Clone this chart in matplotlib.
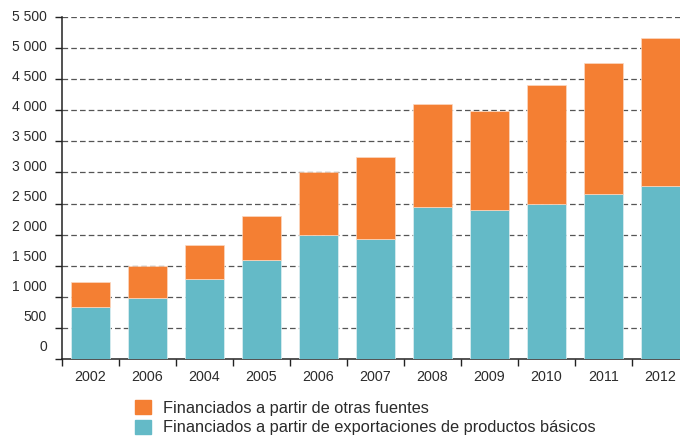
import numpy as np
import matplotlib.pyplot as plt
import matplotlib.transforms as mtransforms
from matplotlib.patches import Patch

plt.rcParams['font.family'] = ['Liberation Sans', 'DejaVu Sans']

# Labels as printed in the source (year labels kept exactly as shown)
years = ["2002", "2006", "2004", "2005", "2006", "2007", "2008", "2009", "2010", "2011", "2012"]
# Financed from commodity exports (lower, teal)
exports = [830, 980, 1290, 1590, 2000, 1930, 2440, 2400, 2500, 2650, 2780]
# Total per year (top of the stack)
totals = [1235, 1500, 1830, 2300, 3000, 3250, 4100, 3985, 4400, 4760, 5165]
other = [t - e for t, e in zip(totals, exports)]

y_ticks = list(range(0, 5501, 500))
y_labels = ["0", "500", "1 000", "1 500", "2 000", "2 500", "3 000",
            "3 500", "4 000", "4 500", "5 000", "5 500"]

label_other = "Financiados a partir de otras fuentes"
label_exports = "Financiados a partir de exportaciones de productos básicos"

orange = "#F47F33"
teal = "#64BAC7"
text_col = "#2b2b2b"

W, H = 680, 436
fig = plt.figure(figsize=(W / 100, H / 100), dpi=100)
ax = fig.add_axes([62 / W, (H - 359) / H, 627 / W, 342 / H])

x = np.arange(len(years))
ax.bar(x, exports, width=0.68, color=teal, edgecolor="#dff0f3", linewidth=0.5, zorder=3)
ax.bar(x, other, bottom=exports, width=0.68, color=orange, edgecolor="#fbd9c2",
       linewidth=0.5, zorder=3)

ax.set_xlim(-0.5, len(years) - 0.5)
ax.set_ylim(0, 5500)

# dashed grid lines
for v in y_ticks[1:]:
    ax.axhline(v, color="#555555", linewidth=0.9, linestyle=(0, (4.5, 2.5)), zorder=1)

# x axis: ticks at category boundaries, labels centred
ax.set_xticks(np.arange(len(years) + 1) - 0.5)
ax.set_xticklabels([])
ax.set_xticks(x, minor=True)
ax.set_xticklabels(years, minor=True, fontsize=10.3, color=text_col)
ax.tick_params(axis="x", which="major", direction="out", length=5, width=1, color="#222222")
ax.tick_params(axis="x", which="minor", length=0, pad=8)

# y axis: ticks outward, labels drift slightly above ticks as in the source
ax.set_yticks(y_ticks)
ax.set_yticklabels([])
ax.tick_params(axis="y", direction="out", length=5, width=1, color="#222222")
for k, (v, lab) in enumerate(zip(y_ticks, y_labels)):
    dy = (12 - 1.09 * k) / 100
    tr = mtransforms.blended_transform_factory(ax.transAxes, ax.transData) + \
        mtransforms.ScaledTranslation(-15 / 100, dy, fig.dpi_scale_trans)
    ax.text(0, v, lab, transform=tr, ha="right", va="center", fontsize=10, color=text_col)

for side in ["top", "right"]:
    ax.spines[side].set_visible(False)
ax.spines["left"].set_color("#222222")
ax.spines["bottom"].set_color("#222222")
ax.spines["left"].set_linewidth(1.1)
ax.spines["bottom"].set_linewidth(1.1)

handles = [Patch(color=orange, label=label_other), Patch(color=teal, label=label_exports)]
leg = fig.legend(handles=handles, loc="upper left", bbox_to_anchor=(132 / W, 1 - 397 / H),
                 frameon=False, fontsize=11.8, handlelength=0.95, handleheight=0.95,
                 handletextpad=0.75, labelspacing=0.22, borderaxespad=0, borderpad=0.2)
for t in leg.get_texts():
    t.set_color(text_col)

fig.savefig("out.png", dpi=100)
